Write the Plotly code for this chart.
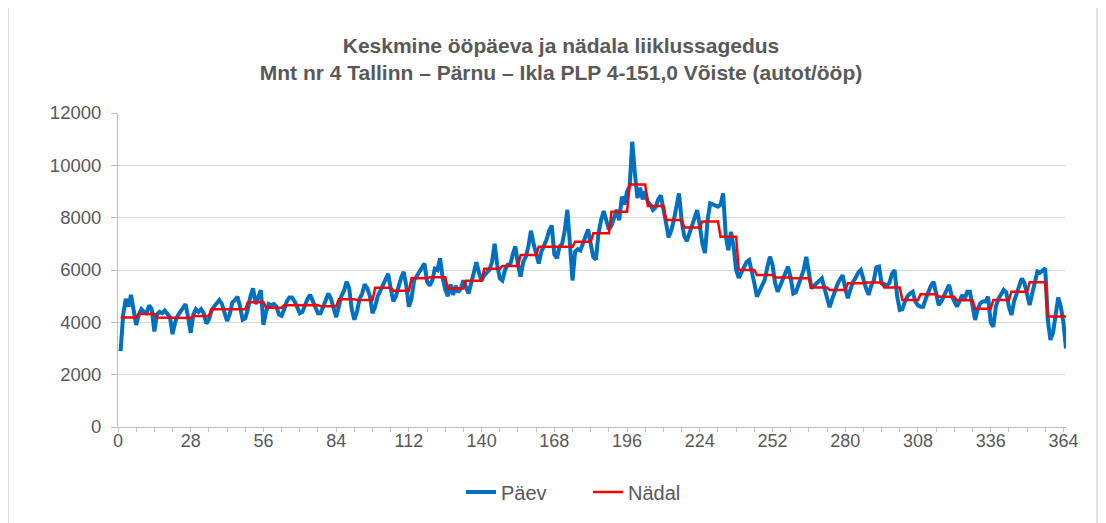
import plotly.graph_objects as go

# Daily traffic (Päev), days 1..365
days = list(range(1, 366))
paev = [
    2900, 4300, 4900, 4600, 5050, 4400, 3900,
    4300, 4500, 4400, 4350, 4650, 4500, 3650,
    4300, 4400, 4350, 4450, 4300, 4200, 3550,
    4000, 4250, 4400, 4500, 4700, 4200, 3600,
    4300, 4500, 4400, 4500, 4350, 3950, 4100,
    4450, 4600, 4700, 4850, 4700, 4400, 4050,
    4300, 4750, 4850, 4980, 4600, 4100, 4150,
    4500, 5000, 5300, 4700, 5000, 5230, 3900,
    4400, 4700, 4650, 4700, 4600, 4300, 4250,
    4500, 4800, 4950, 4950, 4800, 4550, 4350,
    4400, 4700, 4900, 5050, 4800, 4600, 4350,
    4350, 4600, 4800, 5100, 4900, 4500, 4200,
    4600, 5000, 5200, 5550, 5300, 4500, 4100,
    4400, 4900, 5100, 5450, 5300, 5000, 4350,
    4600, 5000, 5200, 5400, 5600, 5850, 5300,
    4800, 5000, 5400, 5700, 5930, 5400, 4600,
    4900, 5600, 5750, 5900, 6100, 6250, 5550,
    5400, 5600, 6050, 6000, 6450, 5700, 5250,
    5000, 5450, 5050, 5400, 5150, 5300, 5600,
    5300, 5100, 5500, 5900, 6300, 5900, 5600,
    5800, 5900, 6000, 6300, 7000, 6200, 5680,
    5600, 6000, 6200, 6200, 6600, 6900, 6200,
    5750, 6300, 6500, 6900, 7500, 7000, 6600,
    6250, 6700, 6900, 7150, 7500, 7700, 6600,
    6450, 6900, 7000, 7500, 8300, 7000, 5600,
    6700, 6800, 6750, 7000, 7300, 7550, 7000,
    6500, 6400, 7400, 7900, 8250, 7900, 7550,
    7700, 8000, 8300, 7900, 8800, 8500, 9000,
    9200, 10900, 9700, 8750, 9150, 8700, 9000,
    8600, 8500, 8300, 8400, 8700, 8850, 8400,
    7800, 7250, 7500, 7900, 8500, 8930, 7900,
    7300, 7100, 7400, 7700, 8000, 8290, 7700,
    7000, 6650, 7900, 8550, 8500, 8450, 8420,
    8500, 8930, 7300, 6760, 7460, 6900, 6000,
    5700, 5900, 6130, 6300, 6380, 6000, 5500,
    4980, 5200, 5400, 5620, 6100, 6510, 6200,
    5500, 5170, 5400, 5700, 5900, 6130, 5700,
    5100, 5150, 5400, 5700, 6000, 6500, 5800,
    5300, 5400, 5500, 5600, 5680, 5300, 4900,
    4580, 4900, 5200, 5450, 5650, 5800, 5300,
    4920, 5250, 5550, 5700, 5900, 6000, 5600,
    5300, 5050, 5400, 5600, 6100, 6130, 5500,
    5450, 5400, 5500, 5850, 6000, 5000, 4470,
    4500, 4800, 5000, 5100, 5170, 4800, 4650,
    4600, 4600, 4900, 5200, 5400, 5550, 5000,
    4660, 4800, 5000, 5200, 5430, 5000, 4800,
    4600, 4800, 5040, 4900, 5170, 5170, 4600,
    4090, 4500, 4730, 4800, 4800, 4980, 4000,
    3830, 4600, 4900, 5100, 5240, 5150, 4600,
    4280, 4800, 5100, 5400, 5680, 5500, 5100,
    4660, 5100, 5500, 5940, 5900, 6000, 6060,
    4090, 3330, 3600, 4400, 4950, 4600, 4000,
    3000,
]

# Weekly average (Nädal), one value per week of 7 days (last entry covers day 365)
nadal_weekly = [
    4180, 4320, 4180, 4170, 4240, 4500, 4500, 4765, 4560, 4650,
    4660, 4610, 4880, 4850, 5325, 5210, 5680, 5720, 5290, 5590,
    6050, 6150, 6570, 6890, 6890, 7080, 7400, 8230, 9270, 8450,
    7910, 7620, 7850, 7270, 6000, 5810, 5710, 5680, 5330, 5240,
    5490, 5520, 5330, 4850, 5070, 4980, 4840, 4520, 4850, 5170,
    5530, 4220, 4220,
]
nadal = [nadal_weekly[(d - 1) // 7] for d in days]

x_tick_vals = list(range(0, 366, 7))
x_tick_text = [str(v) if v % 28 == 0 else "" for v in x_tick_vals]

fig = go.Figure()
fig.add_trace(go.Scatter(x=days, y=paev, mode="lines", name="Päev",
                         line=dict(color="#0070C0", width=4)))
fig.add_trace(go.Scatter(x=days, y=nadal, mode="lines", name="Nädal",
                         line=dict(color="#FF0000", width=2.5)))

font_family = "Liberation Sans, Arial, sans-serif"
W, H = 1098, 515
L, R, T, B = 110, 40, 105, 96
pw, ph = W - L - R, H - T - B

fig.update_layout(
    width=W, height=H,
    margin=dict(l=L, r=R, t=T, b=B, autoexpand=False),
    paper_bgcolor="white", plot_bgcolor="white",
    font=dict(family=font_family, color="#595959", size=17),
    title=dict(
        text="<b>Keskmine ööpäeva ja nädala liiklussagedus</b><br><b>Mnt nr 4 Tallinn – Pärnu – Ikla PLP 4-151,0 Võiste (autot/ööp)</b>",
        x=553 / W, xref="container", xanchor="center",
        y=1 - 45 / H, yref="container", yanchor="middle",
        font=dict(size=21, color="#595959", family=font_family),
    ),
    xaxis=dict(range=[0, 365], tickvals=x_tick_vals, ticktext=x_tick_text,
               showgrid=False, showline=True, linecolor="#BFBFBF", linewidth=1,
               ticks="outside", ticklen=4, tickcolor="#BFBFBF", tickwidth=1,
               zeroline=False, tickfont=dict(size=18), automargin=False,
               ticklabelstandoff=-7),
    yaxis=dict(range=[0, 12000], dtick=2000, tickformat="d",
               showgrid=True, gridcolor="#D9D9D9", gridwidth=1,
               showline=True, linecolor="#BFBFBF", linewidth=1,
               ticks="outside", ticklen=6, tickcolor="#BFBFBF", tickwidth=1,
               zeroline=False, tickfont=dict(size=18.5), automargin=False,
               ticklabelstandoff=6),
    legend=dict(orientation="h", x=(461 - 8 - L) / pw, xanchor="left",
                y=-0.145, yanchor="top", font=dict(size=20),
                entrywidth=82, entrywidthmode="pixels"),
    showlegend=True,
)
# chart-area border (left and right edges)
for xp in (0, 1089):
    fig.add_shape(type="line", xref="paper", yref="paper",
                  x0=(xp - L) / pw, x1=(xp - L) / pw,
                  y0=-(B + 10) / ph, y1=(ph + T + 10) / ph,
                  line=dict(color="#D9D9D9", width=1.5))

fig.write_html("out.html")
